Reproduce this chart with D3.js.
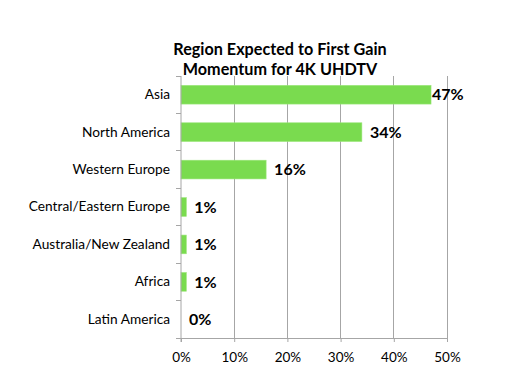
<!DOCTYPE html>
<html><head><meta charset="utf-8">
<script src="https://cdn.jsdelivr.net/npm/d3@7"></script>
<style>body{margin:0;background:#fff}</style>
</head><body>
<svg id="c" width="506" height="379"></svg>
<script>
const categories = ["Asia","North America","Western Europe","Central/Eastern Europe","Australia/New Zealand","Africa","Latin America"];
const values = [47,34,16,1,1,1,0];
const xTicks = [0,10,20,30,40,50];
const titleLines = ["Region Expected to First Gain","Momentum for 4K UHDTV"];

const svg = d3.select("#c");
const font = "Lato, 'Open Sans', sans-serif";
const m = {l:181, r:447, t:76, b:338};
const x = d3.scaleLinear().domain([0,50]).range([m.l, m.r]);
const y = d3.scaleBand().domain(categories).range([m.t, m.b]).paddingInner(0.5).paddingOuter(0.25);
const grid = "#a6a6a6";

// gridlines
svg.append("g").selectAll("line").data(xTicks.slice(1)).join("line")
  .attr("x1", d=>x(d)).attr("x2", d=>x(d)).attr("y1", m.t).attr("y2", m.b)
  .attr("stroke", grid).attr("stroke-width",1).attr("shape-rendering","crispEdges");

// bars
svg.append("g").selectAll("rect").data(values).join("rect")
  .attr("x", x(0)).attr("y", (d,i)=>y(categories[i]))
  .attr("width", d=>x(d)-x(0)).attr("height", y.bandwidth())
  .attr("fill", "#7ADB4F").attr("stroke","#9be67a").attr("stroke-width",0.6);

// x axis
const xa = svg.append("g").attr("transform",`translate(0,${m.b})`)
  .call(d3.axisBottom(x).tickValues(xTicks).tickFormat(d=>d+"%").tickSize(4).tickPadding(10));
xa.select(".domain").attr("stroke",grid);
xa.selectAll(".tick line").attr("stroke",grid);
xa.selectAll("text").attr("font-family",font).attr("font-size",13.5).attr("fill","#000");

// y axis
const ya = svg.append("g").attr("transform",`translate(${m.l},0)`)
  .call(d3.axisLeft(y).tickSize(0).tickPadding(11));
ya.select(".domain").attr("stroke",grid).attr("d",`M0,${m.t}V${m.b+4}`);
ya.selectAll("text").attr("font-family",font).attr("font-size",13.7).attr("fill","#000");
// y tick marks at band boundaries
const bounds = d3.range(categories.length+1).map(i=>m.t + (m.b-m.t)*i/categories.length);
svg.append("g").selectAll("line").data(bounds).join("line")
  .attr("x1", m.l-5).attr("x2", m.l).attr("y1", d=>d).attr("y2", d=>d)
  .attr("stroke",grid).attr("shape-rendering","crispEdges");

// value labels
svg.append("g").selectAll("text").data(values).join("text")
  .attr("x", d=>Math.min(x(d)+8, 432)).attr("y", (d,i)=>y(categories[i])+y.bandwidth()/2)
  .attr("dy","0.36em").attr("font-family",font).attr("font-weight","bold").attr("font-size",16)
  .text(d=>d+"%");

// title
svg.append("g").selectAll("text").data(titleLines).join("text")
  .attr("x", 280).attr("y",(d,i)=>55+i*20).attr("text-anchor","middle")
  .attr("font-family",font).attr("font-weight","bold").attr("font-size",16.2)
  .text(d=>d);
</script>
</body></html>
